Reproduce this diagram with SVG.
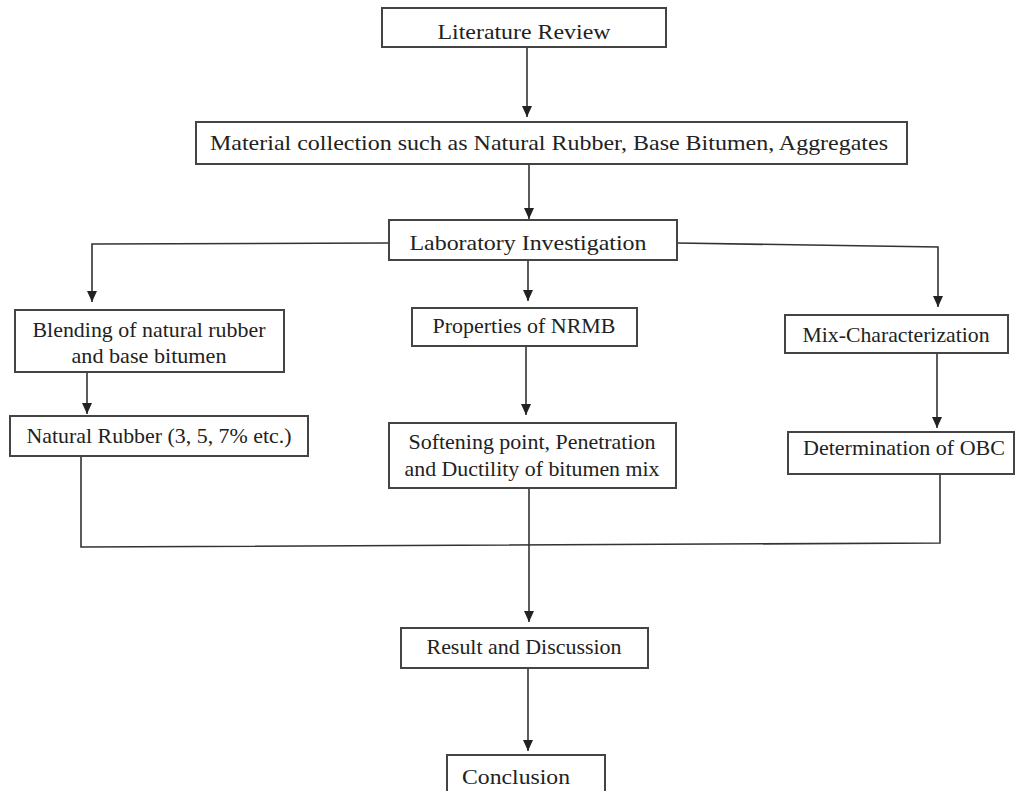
<svg xmlns="http://www.w3.org/2000/svg" width="1015" height="791" viewBox="0 0 1015 791">
  <style>
    .box { fill: #ffffff; stroke: #444444; stroke-width: 2; }
    .lbl { font-family: "Liberation Serif", "Times New Roman", serif; font-size: 21px; fill: #222222; text-anchor: middle; }
    .edge { fill: none; stroke: #333333; stroke-width: 1.6; }
  </style>
  <defs>
    <marker id="ah" markerUnits="userSpaceOnUse" markerWidth="12" markerHeight="10" refX="11" refY="5" orient="auto" viewBox="0 0 12 10">
      <path d="M0,0 L11,5 L0,10 Z" fill="#222222"/>
    </marker>
  </defs>
  <rect width="1015" height="791" fill="#ffffff"/>

  <g id="connectors">
    <path class="edge" d="M527,47 L527,117" marker-end="url(#ah)"/>
    <path class="edge" d="M529,164 L529,219" marker-end="url(#ah)"/>
    <path class="edge" d="M389,243 L92,244 L92,302" marker-end="url(#ah)"/>
    <path class="edge" d="M528,260 L528,301" marker-end="url(#ah)"/>
    <path class="edge" d="M677,243 L938,247 L938,307" marker-end="url(#ah)"/>
    <path class="edge" d="M87,372 L87,414" marker-end="url(#ah)"/>
    <path class="edge" d="M526,346 L526,415" marker-end="url(#ah)"/>
    <path class="edge" d="M937,353 L937,428" marker-end="url(#ah)"/>
    <path class="edge" d="M81,456 L81,547 L940,543 L940,474"/>
    <path class="edge" d="M529,488 L529,622" marker-end="url(#ah)"/>
    <path class="edge" d="M528,668 L528,751" marker-end="url(#ah)"/>
  </g>

  <g id="literature-review">
    <rect class="box" x="382" y="8" width="284" height="39"/>
    <text class="lbl" x="524" y="39" textLength="173" lengthAdjust="spacingAndGlyphs">Literature Review</text>
  </g>
  <g id="material-collection">
    <rect class="box" x="196" y="122" width="711" height="42"/>
    <text class="lbl" x="549" y="150" textLength="678" lengthAdjust="spacingAndGlyphs">Material collection such as Natural Rubber, Base Bitumen, Aggregates</text>
  </g>
  <g id="laboratory-investigation">
    <rect class="box" x="389" y="220" width="288" height="40"/>
    <text class="lbl" x="528" y="250" textLength="237" lengthAdjust="spacingAndGlyphs">Laboratory Investigation</text>
  </g>
  <g id="blending">
    <rect class="box" x="15" y="310" width="269" height="62"/>
    <text class="lbl" x="149" y="337" textLength="233" lengthAdjust="spacingAndGlyphs">Blending of natural rubber</text>
    <text class="lbl" x="149" y="363" textLength="155" lengthAdjust="spacingAndGlyphs">and base bitumen</text>
  </g>
  <g id="properties-nrmb">
    <rect class="box" x="412" y="308" width="225" height="38"/>
    <text class="lbl" x="524" y="333" textLength="183" lengthAdjust="spacingAndGlyphs">Properties of NRMB</text>
  </g>
  <g id="mix-characterization">
    <rect class="box" x="785" y="315" width="223" height="38"/>
    <text class="lbl" x="896" y="342" textLength="187" lengthAdjust="spacingAndGlyphs">Mix-Characterization</text>
  </g>
  <g id="natural-rubber">
    <rect class="box" x="10" y="416" width="298" height="40"/>
    <text class="lbl" x="159" y="443" textLength="265" lengthAdjust="spacingAndGlyphs">Natural Rubber (3, 5, 7% etc.)</text>
  </g>
  <g id="softening-point">
    <rect class="box" x="389" y="423" width="287" height="65"/>
    <text class="lbl" x="532" y="449" textLength="247" lengthAdjust="spacingAndGlyphs">Softening point, Penetration</text>
    <text class="lbl" x="532" y="476" textLength="255" lengthAdjust="spacingAndGlyphs">and Ductility of bitumen mix</text>
  </g>
  <g id="determination-obc">
    <rect class="box" x="788" y="432" width="226" height="42"/>
    <text class="lbl" x="904" y="455" textLength="202" lengthAdjust="spacingAndGlyphs">Determination of OBC</text>
  </g>
  <g id="result-discussion">
    <rect class="box" x="401" y="628" width="247" height="40"/>
    <text class="lbl" x="524" y="654" textLength="195" lengthAdjust="spacingAndGlyphs">Result and Discussion</text>
  </g>
  <g id="conclusion">
    <rect class="box" x="447" y="755" width="158" height="45"/>
    <text class="lbl" x="516" y="784" textLength="108" lengthAdjust="spacingAndGlyphs">Conclusion</text>
  </g>
</svg>
